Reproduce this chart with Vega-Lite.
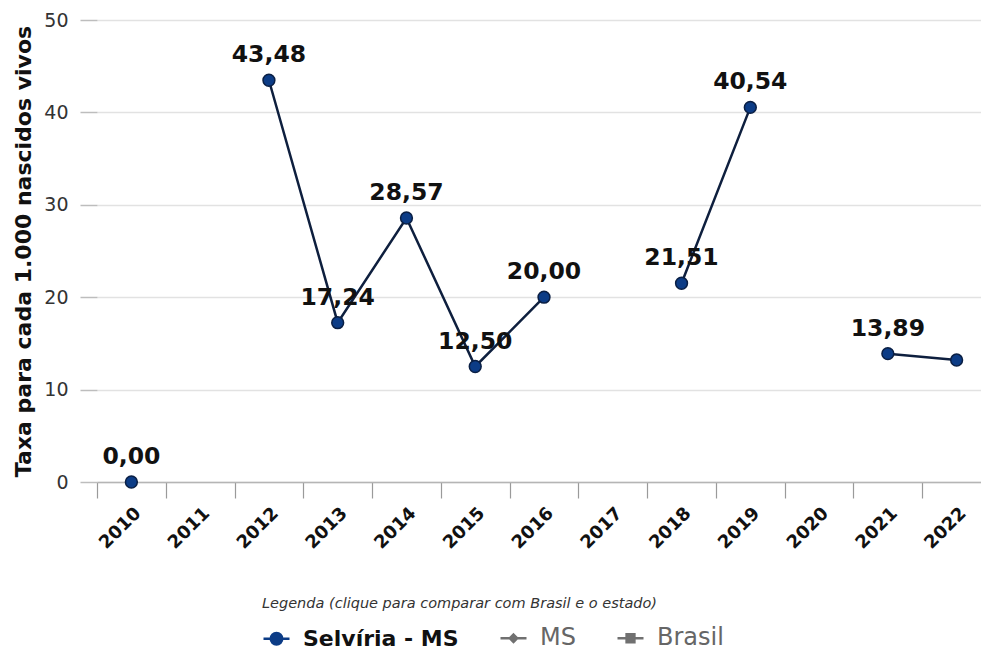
{
  "$schema": "https://vega.github.io/schema/vega-lite/v6.json",
  "autosize": "none",
  "width": 884,
  "height": 462,
  "padding": {"left": 97, "top": 20, "right": 0, "bottom": 169},
  "background": "white",
  "config": {
    "view": {"stroke": null},
    "locale": {"number": {"decimal": ",", "thousands": ".", "grouping": [3], "currency": ["R$", ""]}}
  },
  "data": {
    "values": [
      {"year": "2010", "series": "Selvíria - MS", "taxa": 0.0},
      {"year": "2011", "series": "Selvíria - MS", "taxa": null},
      {"year": "2012", "series": "Selvíria - MS", "taxa": 43.48},
      {"year": "2013", "series": "Selvíria - MS", "taxa": 17.24},
      {"year": "2014", "series": "Selvíria - MS", "taxa": 28.57},
      {"year": "2015", "series": "Selvíria - MS", "taxa": 12.5},
      {"year": "2016", "series": "Selvíria - MS", "taxa": 20.0},
      {"year": "2017", "series": "Selvíria - MS", "taxa": null},
      {"year": "2018", "series": "Selvíria - MS", "taxa": 21.51},
      {"year": "2019", "series": "Selvíria - MS", "taxa": 40.54},
      {"year": "2020", "series": "Selvíria - MS", "taxa": null},
      {"year": "2021", "series": "Selvíria - MS", "taxa": 13.89},
      {"year": "2022", "series": "Selvíria - MS", "taxa": 13.2}
    ]
  },
  "encoding": {
    "x": {
      "field": "year",
      "type": "ordinal",
      "scale": {
        "domain": ["2010","2011","2012","2013","2014","2015","2016","2017","2018","2019","2020","2021","2022"],
        "range": [0, 894],
        "paddingInner": 0,
        "paddingOuter": 0
      },
      "axis": {
        "title": null,
        "tickBand": "extent",
        "labelAngle": -45,
        "labelFont": "DejaVu Sans",
        "labelFontWeight": "bold",
        "labelFontSize": 18,
        "labelColor": "#111",
        "labelPadding": 6,
        "tickSize": 16,
        "tickColor": "#9a9a9a",
        "tickWidth": 1.2,
        "domainColor": "#b5b5b5",
        "domainWidth": 1.5,
        "grid": false
      }
    },
    "y": {
      "field": "taxa",
      "type": "quantitative",
      "scale": {"domain": [0, 50], "nice": false, "zero": true},
      "axis": {
        "title": "Taxa para cada 1.000 nascidos vivos",
        "titleFont": "DejaVu Sans",
        "titleFontWeight": "bold",
        "titleFontSize": 22,
        "titleColor": "#111",
        "titlePadding": 8,
        "values": [0, 10, 20, 30, 40, 50],
        "labelFont": "DejaVu Sans",
        "labelFontSize": 19,
        "labelColor": "#333",
        "labelPadding": 12,
        "tickSize": 17,
        "tickColor": "#bdbdbd",
        "tickWidth": 1.5,
        "domain": false,
        "gridColor": "#e2e2e2",
        "gridWidth": 1.5
      }
    }
  },
  "layer": [
    {
      "mark": {"type": "line", "color": "#0e1f3e", "strokeWidth": 2.5},
      "encoding": {}
    },
    {
      "mark": {"type": "point", "filled": true, "size": 140, "strokeWidth": 1.5, "stroke": "#0a1f44", "fill": "#0c3c86", "opacity": 1},
      "encoding": {}
    },
    {
      "transform": [{"filter": "datum.taxa == -999"}],
      "mark": {"type": "point", "filled": true, "strokeWidth": 2.5, "opacity": 1},
      "encoding": {
        "fill": {
          "field": "series", "type": "nominal",
          "scale": {"domain": ["Selvíria - MS", "MS", "Brasil"], "range": ["#0c3c86", "#707070", "#707070"]},
          "legend": null
        },
        "stroke": {
          "field": "series", "type": "nominal",
          "scale": {"domain": ["Selvíria - MS", "MS", "Brasil"], "range": ["#0c3c86", "#707070", "#707070"]},
          "legend": null
        },
        "shape": {
          "field": "series", "type": "nominal",
          "scale": {
            "domain": ["Selvíria - MS", "MS", "Brasil"],
            "range": [
              "M-1,0L1,0M0.44,0A0.44,0.44,0,1,1,-0.44,0A0.44,0.44,0,1,1,0.44,0Z",
              "M-1,0L1,0M0,-0.28L0.28,0L0,0.28L-0.28,0Z",
              "M-1,0L1,0M-0.3,-0.3H0.3V0.3H-0.3Z"
            ]
          },
          "legend": {
            "orient": "none",
            "legendX": 165,
            "legendY": 577,
            "direction": "horizontal",
            "title": "Legenda (clique para comparar com Brasil e o estado)",
            "titleFont": "DejaVu Sans",
            "titleFontStyle": "italic",
            "titleFontWeight": "normal",
            "titleFontSize": 14.5,
            "titleColor": "#333",
            "titlePadding": 12,
            "titleAnchor": "start",
            "titleLimit": 800,
            "labelFont": "DejaVu Sans",
            "labelFontSize": {"expr": "datum.value === 'Selvíria - MS' ? 22 : 24"},
            "labelLimit": 400,
            "labelOffset": 12,
            "labelFontWeight": {"expr": "datum.value === 'Selvíria - MS' ? 'bold' : 'normal'"},
            "labelColor": {"expr": "datum.value === 'Selvíria - MS' ? '#111111' : '#666666'"},
            "columnPadding": 36,
            "symbolSize": 676,
            "symbolStrokeWidth": 2.5,
            "symbolFillColor": {"expr": "datum.value === 'Selvíria - MS' ? '#0c3c86' : '#707070'"},
            "symbolStrokeColor": {"expr": "datum.value === 'Selvíria - MS' ? '#0c3c86' : '#707070'"},
            "symbolOpacity": 1
          }
        }
      }
    },
    {
      "transform": [{"filter": "datum.taxa != null && datum.year != '2022'"}],
      "mark": {"type": "text", "font": "DejaVu Sans", "fontWeight": "bold", "fontSize": 23.5, "color": "#111", "baseline": "middle", "dy": -25},
      "encoding": {
        "text": {"field": "taxa", "type": "quantitative", "format": ".2f"}
      }
    }
  ]
}
